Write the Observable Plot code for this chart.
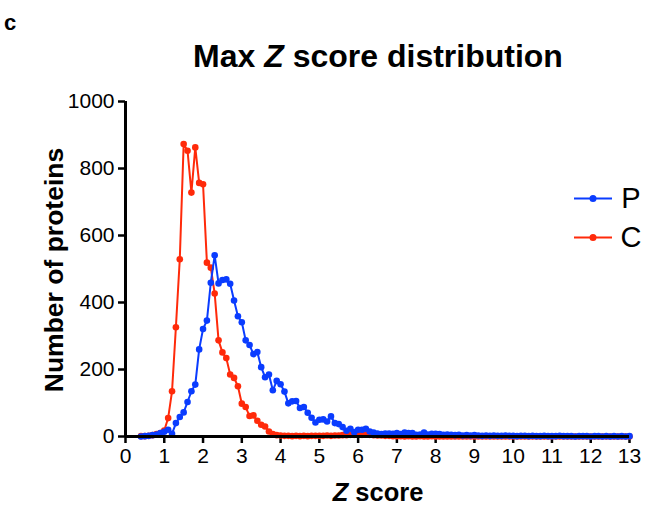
<!DOCTYPE html>
<html>
<head>
<meta charset="utf-8">
<script src="https://cdn.jsdelivr.net/npm/d3@7"></script>
<script src="https://cdn.jsdelivr.net/npm/@observablehq/plot@0.6"></script>
<style>
  html, body { margin: 0; padding: 0; background: white; }
  #chart { width: 645px; height: 508px; overflow: hidden; }
</style>
</head>
<body>
<div id="chart"></div>
<script>
// Bin centres (Z score)
const zScore = [
  0.4,0.5,0.6,0.7,0.8,0.9,
  1.0,1.1,1.2,1.3,1.4,1.5,1.6,1.7,1.8,1.9,
  2.0,2.1,2.2,2.3,2.4,2.5,2.6,2.7,2.8,2.9,
  3.0,3.1,3.2,3.3,3.4,3.5,3.6,3.7,3.8,3.9,
  4.0,4.1,4.2,4.3,4.4,4.5,4.6,4.7,4.8,4.9,
  5.0,5.1,5.2,5.3,5.4,5.5,5.6,5.7,5.8,5.9,
  6.0,6.1,6.2,6.3,6.4,6.5,6.6,6.7,6.8,6.9,
  7.0,7.1,7.2,7.3,7.4,7.5,7.6,7.7,7.8,7.9,
  8.0,8.1,8.2,8.3,8.4,8.5,8.6,8.7,8.8,8.9,
  9.0,9.1,9.2,9.3,9.4,9.5,9.6,9.7,9.8,9.9,
  10.0,10.1,10.2,10.3,10.4,10.5,10.6,10.7,10.8,10.9,
  11.0,11.1,11.2,11.3,11.4,11.5,11.6,11.7,11.8,11.9,
  12.0,12.1,12.2,12.3,12.4,12.5,12.6,12.7,12.8,12.9,
  13.0
];
// Series "P" (blue)
const seriesP = [
  0,1,2,4,6,10,
  14,20,8,40,58,72,103,135,155,260,
  321,346,459,541,457,467,469,456,406,359,
  341,287,273,246,252,207,177,185,138,166,
  156,134,99,105,106,85,88,71,56,42,
  50,51,45,60,40,37,28,17,23,13,
  20,20,23,15,12,9,7,9,9,8,
  10,7,12,10,10,5,6,12,6,8,
  8,7,5,6,5,4,5,3,4,3,
  4,3,2,3,2,3,2,2,3,2,
  2,1,2,2,1,2,1,1,2,1,
  1,1,2,1,1,1,0,1,1,1,
  0,1,1,0,1,0,1,0,1,0,
  1
];
// Series "C" (red)
const seriesC = [
  1,1,2,4,7,10,
  18,55,135,326,529,873,853,728,863,757,
  753,519,504,427,287,251,234,185,175,150,
  98,88,61,63,47,35,30,15,7,4,
  3,2,2,1,2,1,2,1,2,2,
  2,2,3,2,3,3,4,4,5,5,
  6,5,6,5,4,3,3,2,2,1,
  1,1,0,1,0,0,1,0,0,1,
  0,0,0,0,0,0,0,0,0,0,
  0,0,0,0,0,0,0,0,0,0,
  0,0,0,0,0,0,0,0,0,0,
  0,0,0,0,0,0,0,0,0,0,
  0,0,0,0,0,0,0,0,0,0,
  0
];
const seriesNames = ["P", "C"];
const xTicks = [0,1,2,3,4,5,6,7,8,9,10,11,12,13];
const yTicks = [0,200,400,600,800,1000];

const BLUE = "#0a3cff";
const RED = "#ff2a0a";
const FONT = "'Liberation Sans', Arial, Helvetica, sans-serif";

const dataP = zScore.map((z, i) => ({z, n: seriesP[i]}));
const dataC = zScore.map((z, i) => ({z, n: seriesC[i]}));

const chart = Plot.plot({
  width: 645,
  height: 508,
  marginLeft: 125,
  marginRight: 16,
  marginTop: 101,
  marginBottom: 72,
  style: {fontFamily: FONT, fontSize: "21px", color: "black", background: "white", overflow: "visible"},
  x: {domain: [0, 13], label: null},
  y: {domain: [0, 1000], label: null},
  marks: [
    Plot.axisX({ticks: xTicks, tickSize: 7, tickPadding: 5, strokeWidth: 2.5, fontSize: 21, label: null, tickFormat: d => String(d)}),
    Plot.axisY({ticks: yTicks, tickSize: 7, tickPadding: 4, strokeWidth: 2.5, fontSize: 21, label: null, tickFormat: d => String(d)}),
    Plot.line(dataC, {x: "z", y: "n", stroke: RED, strokeWidth: 2}),
    Plot.dot(dataC, {x: "z", y: "n", fill: RED, r: 3.3}),
    Plot.line(dataP, {x: "z", y: "n", stroke: BLUE, strokeWidth: 2}),
    Plot.dot(dataP, {x: "z", y: "n", fill: BLUE, r: 3.3}),
    Plot.ruleY([0], {strokeWidth: 3}),
    Plot.ruleX([0], {strokeWidth: 3})
  ]
});
document.getElementById("chart").appendChild(chart);

const svg = d3.select(chart);
// Panel letter
svg.append("text").attr("x", 10).attr("y", 30)
  .attr("font-family", FONT).attr("font-weight", "bold").attr("font-size", 22)
  .text("c");
// Title
const title = svg.append("text").attr("x", 378).attr("y", 67).attr("text-anchor", "middle")
  .attr("font-family", FONT).attr("font-weight", "bold").attr("font-size", 32);
title.append("tspan").text("Max ");
title.append("tspan").attr("font-style", "italic").text("Z");
title.append("tspan").text(" score distribution");
// Y label
svg.append("text").attr("transform", "translate(63,270) rotate(-90)").attr("text-anchor", "middle")
  .attr("font-family", FONT).attr("font-weight", "bold").attr("font-size", 26.5)
  .text("Number of proteins");
// X label
const xl = svg.append("text").attr("x", 378).attr("y", 501).attr("text-anchor", "middle")
  .attr("font-family", FONT).attr("font-weight", "bold").attr("font-size", 25.5);
xl.append("tspan").attr("font-style", "italic").text("Z");
xl.append("tspan").text(" score");
// Legend
const legendColors = [BLUE, RED];
const legendY = [198.5, 237.5];
seriesNames.forEach((name, i) => {
  const g = svg.append("g");
  g.append("line").attr("x1", 574).attr("x2", 612).attr("y1", legendY[i]).attr("y2", legendY[i])
    .attr("stroke", legendColors[i]).attr("stroke-width", 2);
  g.append("circle").attr("cx", 593).attr("cy", legendY[i]).attr("r", 3.5).attr("fill", legendColors[i]);
  g.append("text").attr("x", 631).attr("y", legendY[i] + 9.5)
    .attr("font-family", FONT).attr("font-size", 29).text(name);
});
</script>
</body>
</html>
